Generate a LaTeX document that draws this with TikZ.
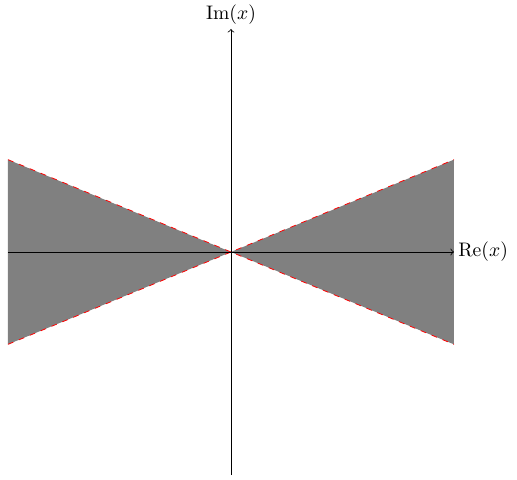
\documentclass[tikz,border=0pt]{standalone}
\begin{document}
\begin{tikzpicture}[
  wedge/.style={fill=gray, draw=none},
  wedgeedge/.style={red, dashed},
  axis/.style={->}
]
\useasboundingbox (-4.143,-4.072) rectangle (5.13,4.52);
\coordinate (O) at (0,0);
\coordinate (LT) at (-4,{4*tan(22.5)});
\coordinate (LB) at (-4,{-4*tan(22.5)});
\coordinate (RT) at (4,{4*tan(22.5)});
\coordinate (RB) at (4,{-4*tan(22.5)});
\fill[wedge] (LT) -- (O) -- (LB) -- cycle;
\fill[wedge] (RT) -- (O) -- (RB) -- cycle;
\draw[wedgeedge] (LT) -- (O) -- (RB);
\draw[wedgeedge] (LB) -- (O) -- (RT);
\coordinate (xl) at (-4,0);
\coordinate (yb) at (0,-4);
\node[anchor=west, inner sep=2pt] (xr) at (4,0) {$\mathrm{Re}(x)$};
\node[anchor=south, inner sep=2pt] (yt) at (0,4) {$\mathrm{Im}(x)$};
\draw[axis] (xl) -- (xr.west);
\draw[axis] (yb) -- (yt.south);
\end{tikzpicture}
\end{document}
